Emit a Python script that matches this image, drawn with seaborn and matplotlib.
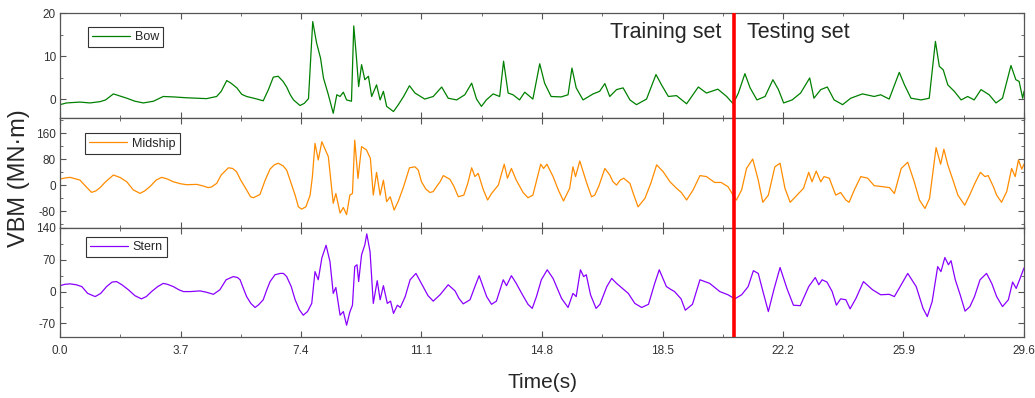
import matplotlib
matplotlib.use("Agg")
import matplotlib.pyplot as plt
from matplotlib import font_manager
from matplotlib.ticker import MultipleLocator, FixedLocator
import pandas as pd
import seaborn as sns

# Vertical bending moment records (time in s, VBM in MN·m)
bow = [
    (0.0, -1.3), (0.2, -0.9), (0.61, -0.7), (0.92, -0.9), (1.23, -0.6), (1.4, -0.2), (1.64, 1.2),
    (2.05, 0.2), (2.3, -0.5), (2.56, -0.9), (2.87, -0.5), (3.17, 0.6), (3.48, 0.5), (3.89, 0.3),
    (4.5, 0.1), (4.81, 0.6), (4.95, 1.8), (5.12, 4.3), (5.25, 3.7), (5.43, 2.6), (5.58, 1.1),
    (5.73, 0.6), (6.0, 0.1), (6.24, -0.4), (6.4, 2.2), (6.55, 5.1), (6.7, 5.3), (6.85, 4.1),
    (6.96, 2.8), (7.07, 1.0), (7.17, -0.2), (7.37, -1.5), (7.5, -1.0), (7.63, 0.1), (7.76, 18.0),
    (7.88, 13.0), (8.0, 9.5), (8.09, 4.9), (8.24, 1.0), (8.39, -3.3), (8.5, 1.0), (8.6, 0.6),
    (8.7, 1.6), (8.8, -0.2), (8.95, -0.5), (9.02, 17.0), (9.1, 9.9), (9.17, 2.9), (9.26, 8.0),
    (9.36, 4.5), (9.47, 5.3), (9.57, 0.6), (9.72, 3.3), (9.83, -0.2), (9.93, 1.8), (10.03, -1.7),
    (10.24, -2.9), (10.39, -1.3), (10.55, 0.6), (10.73, 3.1), (10.9, 1.4), (11.2, 0.0), (11.46, 0.6),
    (11.72, 2.8), (11.92, 0.2), (12.18, -0.2), (12.43, 1.0), (12.64, 3.7), (12.79, 0.0), (12.94, -1.7),
    (13.09, -0.2), (13.3, 1.2), (13.5, 0.6), (13.62, 8.8), (13.76, 1.4), (13.91, 1.0), (14.11, -0.2),
    (14.27, 1.6), (14.52, 0.0), (14.73, 8.2), (14.88, 3.7), (15.08, 0.6), (15.39, 0.5), (15.6, 1.0),
    (15.72, 7.2), (15.85, 2.6), (16.06, -0.2), (16.37, 1.2), (16.57, 1.8), (16.73, 3.6), (16.88, 0.6),
    (17.09, 2.2), (17.29, 2.6), (17.5, -0.2), (17.7, -1.3), (18.01, 0.0), (18.3, 5.7), (18.47, 3.3),
    (18.68, 0.6), (18.93, 0.8), (19.24, -1.1), (19.6, 2.8), (19.85, 1.4), (20.2, 2.3), (20.47, 0.6),
    (20.67, -1.1), (20.83, 1.4), (21.03, 5.9), (21.19, 2.6), (21.4, -0.2), (21.65, 0.6), (21.89, 4.5),
    (22.06, 2.2), (22.22, -0.9), (22.48, -0.2), (22.74, 1.4), (23.02, 4.9), (23.15, 0.2), (23.36, 2.2),
    (23.56, 2.8), (23.77, -0.2), (24.03, -1.3), (24.28, 0.2), (24.64, 1.2), (25.0, 0.6), (25.2, 1.0),
    (25.46, 0.0), (25.77, 6.2), (25.93, 3.3), (26.13, 0.2), (26.44, -0.2), (26.69, 0.2), (26.88, 13.4),
    (27.0, 7.6), (27.12, 6.8), (27.26, 3.3), (27.46, 1.8), (27.67, -0.2), (27.87, 0.6), (28.07, -0.2),
    (28.28, 2.2), (28.53, 1.0), (28.74, -0.9), (28.94, 0.2), (29.2, 7.8), (29.35, 4.5), (29.45, 4.1),
    (29.56, 0.2), (29.6, 1.8),
]

midship = [
    (0.0, 19.5), (0.15, 22.6), (0.31, 24.6), (0.61, 16.4), (0.8, -4), (0.97, -21.5), (1.1, -17),
    (1.23, -7), (1.4, 11), (1.64, 31.8), (1.85, 24), (2.05, 11), (2.25, -14), (2.46, -24.6),
    (2.6, -17), (2.76, -4), (2.95, 16), (3.12, 24.6), (3.3, 19.5), (3.48, 11), (3.7, 5), (3.89, 2),
    (4.2, 3), (4.4, -2), (4.55, -7), (4.65, -5), (4.81, 6), (4.95, 32), (5.17, 54), (5.3, 52),
    (5.42, 42), (5.55, 16), (5.73, -14), (5.85, -35), (5.94, -38), (6.14, -28), (6.3, 16),
    (6.45, 50), (6.58, 63), (6.7, 68), (6.85, 60), (6.96, 47), (7.1, 6), (7.22, -30), (7.32, -66),
    (7.42, -73), (7.55, -66), (7.68, -30), (7.75, 27), (7.83, 129), (7.93, 78), (8.04, 134),
    (8.24, 88), (8.39, -55), (8.47, -25), (8.6, -85), (8.7, -68), (8.8, -90), (8.9, -30),
    (8.98, -25), (9.05, 139), (9.15, 21), (9.26, 119), (9.41, 109), (9.53, 83), (9.62, -30),
    (9.72, 40), (9.83, -30), (9.93, 16), (10.03, -50), (10.14, -35), (10.26, -76), (10.39, -48),
    (10.55, -4), (10.73, 54), (10.9, 57), (11.0, 47), (11.1, 11), (11.23, -11), (11.36, -22),
    (11.46, -19), (11.56, -4), (11.67, 11), (11.77, 30), (11.97, 19), (12.1, -4), (12.23, -35),
    (12.4, -30), (12.52, 6), (12.64, 54), (12.74, 27), (12.84, 37), (13.0, -14), (13.13, -45),
    (13.25, -25), (13.46, 1), (13.64, 65), (13.74, 22), (13.86, 52), (14.01, 16), (14.22, -22),
    (14.37, -38), (14.52, -30), (14.76, 65), (14.85, 52), (14.95, 65), (15.14, 27), (15.3, -14),
    (15.46, -48), (15.65, -9), (15.75, 57), (15.83, 27), (15.96, 75), (16.16, 11), (16.32, -35),
    (16.42, -30), (16.55, -1), (16.73, 52), (16.88, 32), (16.98, 11), (17.09, 1), (17.2, 16),
    (17.31, 22), (17.5, 6), (17.62, -30), (17.75, -66), (17.96, -40), (18.14, 6), (18.32, 63),
    (18.52, 42), (18.73, 11), (18.93, -9), (19.08, -22), (19.24, -45), (19.44, -14), (19.65, 30),
    (19.85, 27), (20.1, 9), (20.3, 9), (20.51, -4), (20.67, -30), (20.77, -45), (20.93, -14),
    (21.08, 52), (21.27, 81), (21.44, 16), (21.58, -52), (21.75, -30), (21.95, 57), (22.11, 68),
    (22.26, -9), (22.42, -52), (22.63, -30), (22.83, -9), (22.99, 40), (23.09, 11), (23.22, 44),
    (23.36, 11), (23.46, 27), (23.62, 22), (23.82, -30), (23.97, -22), (24.13, -45), (24.23, -52),
    (24.39, -14), (24.59, 27), (24.8, 22), (25.0, -1), (25.26, -4), (25.47, -7), (25.62, -25),
    (25.83, 52), (26.03, 71), (26.23, 11), (26.39, -45), (26.56, -71), (26.7, -40), (26.9, 116),
    (27.04, 65), (27.14, 111), (27.26, 63), (27.42, 16), (27.57, -30), (27.78, -61), (27.93, -30),
    (28.09, 6), (28.26, 40), (28.4, 27), (28.5, 30), (28.66, -4), (28.76, -30), (28.91, -52),
    (29.07, -19), (29.22, 52), (29.33, 27), (29.43, 78), (29.53, 50), (29.6, 65),
]

stern = [
    (0.0, 13), (0.15, 16), (0.31, 17), (0.5, 15), (0.67, 11), (0.85, -4), (1.08, -11), (1.25, -4),
    (1.43, 11), (1.6, 21), (1.74, 22), (1.9, 15), (2.1, 4), (2.3, -9), (2.5, -16), (2.65, -11),
    (2.81, 0), (3.0, 11), (3.17, 18), (3.3, 16), (3.48, 11), (3.65, 4), (3.79, 0), (4.0, 0),
    (4.3, 1.5), (4.5, -1.5), (4.71, -6), (4.91, 4), (5.1, 26), (5.32, 33), (5.45, 31), (5.53, 26),
    (5.62, 9), (5.73, -11), (5.86, -26), (5.99, -35), (6.1, -29), (6.24, -18), (6.35, 4),
    (6.45, 22), (6.6, 37), (6.76, 40), (6.86, 40), (6.96, 33), (7.1, 11), (7.22, -18), (7.35, -40),
    (7.47, -52), (7.6, -44), (7.73, -26), (7.83, 44), (7.93, 26), (8.04, 74), (8.17, 102),
    (8.29, 66), (8.39, -4), (8.47, 9), (8.6, -52), (8.7, -44), (8.8, -74), (8.9, -45), (8.98, -30),
    (9.05, 55), (9.12, 59), (9.17, 22), (9.26, 81), (9.36, 103), (9.42, 127), (9.52, 88),
    (9.62, -26), (9.74, 24), (9.83, -18), (9.93, 13), (10.05, -26), (10.15, -21), (10.24, -48),
    (10.36, -30), (10.45, -35), (10.6, -11), (10.75, 26), (10.93, 40), (11.15, 11), (11.3, -9),
    (11.46, -21), (11.67, -7), (11.92, 15), (12.13, 1.5), (12.25, -15), (12.38, -27), (12.59, -18),
    (12.74, 11), (12.87, 35), (12.97, 15), (13.1, -11), (13.25, -28), (13.4, -21), (13.61, 26),
    (13.71, 13), (13.86, 35), (14.01, 18), (14.2, -7), (14.37, -28), (14.5, -37), (14.63, -11),
    (14.78, 26), (14.96, 48), (15.14, 29), (15.27, 7), (15.4, -15), (15.6, -35), (15.75, -4),
    (15.85, -11), (15.98, 48), (16.08, 33), (16.16, 37), (16.29, -7), (16.46, -37), (16.58, -28),
    (16.79, 11), (16.94, 29), (17.09, 18), (17.27, 7), (17.45, -4), (17.65, -26), (17.86, -35),
    (18.07, -28), (18.26, 18), (18.4, 48), (18.62, 11), (18.75, 5), (18.87, 0), (19.07, -16),
    (19.2, -41), (19.42, -28), (19.65, 26), (19.95, 18), (20.26, 0), (20.51, -7), (20.72, -16),
    (20.93, -7), (21.13, 11), (21.29, 46), (21.44, 40), (21.6, -4), (21.75, -44), (21.93, 7),
    (22.11, 53), (22.32, 7), (22.52, -30), (22.73, -31), (22.99, 11), (23.19, 31), (23.3, 15),
    (23.4, 26), (23.55, 21), (23.71, 0), (23.84, -30), (23.97, -16), (24.13, -18), (24.26, -38),
    (24.44, -15), (24.67, 22), (24.95, 4), (25.2, -7), (25.46, -6), (25.62, -11), (25.83, 15),
    (26.03, 40), (26.29, 11), (26.5, -37), (26.63, -55), (26.78, -22), (26.95, 55), (27.05, 44),
    (27.17, 75), (27.28, 59), (27.36, 68), (27.49, 26), (27.64, -7), (27.79, -43), (27.94, -33),
    (28.08, -11), (28.25, 26), (28.45, 40), (28.61, 18), (28.76, -11), (28.94, -33), (29.12, -18),
    (29.25, 21), (29.36, 7), (29.48, 29), (29.6, 52),
]

series_names = ["Bow", "Midship", "Stern"]
series_colors = ["#008000", "#ff8c00", "#8a00ff"]
x_ticks = [0.0, 3.7, 7.4, 11.1, 14.8, 18.5, 22.2, 25.9, 29.6]
y_ticks = [[0, 10, 20], [-80, 0, 80, 160], [-70, 0, 70, 140]]
y_minor = [5, 40, 35]
y_limits = [(-4.4, 20), (-131, 207), (-100, 140)]
split_time = 20.7

sns.set_style("ticks")
available = {f.name for f in font_manager.fontManager.ttflist}
narrow = "Liberation Sans Narrow" if "Liberation Sans Narrow" in available else "Liberation Sans"
plt.rcParams["font.family"] = ["Liberation Sans", "DejaVu Sans"]
plt.rcParams["axes.unicode_minus"] = False

fig = plt.figure(figsize=(10.35, 3.98), dpi=100)
W, H = 1035, 398
left, right = 60, 1024
panel_px = [(13, 118), (118, 228), (228, 337)]
legend_anchor = [(0.029, 0.87), (0.026, 0.86), (0.027, 0.92)]

axes = []
for top, bot in panel_px:
    ax = fig.add_axes([left / W, 1 - bot / H, (right - left) / W, (bot - top) / H])
    axes.append(ax)

for i, (ax, data) in enumerate(zip(axes, [bow, midship, stern])):
    df = pd.DataFrame(data, columns=["Time", "VBM"])
    sns.lineplot(data=df, x="Time", y="VBM", ax=ax, color=series_colors[i], lw=0.9,
                 sort=True, estimator=None, label=series_names[i])
    ax.axvline(split_time, color="#ff0000", lw=2.6, zorder=5)
    ax.set_xlim(0, 29.6)
    ax.set_ylim(*y_limits[i])
    ax.xaxis.set_major_locator(FixedLocator(x_ticks))
    ax.xaxis.set_minor_locator(MultipleLocator(1.85))
    ax.yaxis.set_major_locator(FixedLocator(y_ticks[i]))
    ax.yaxis.set_minor_locator(MultipleLocator(y_minor[i]))
    ax.tick_params(which="both", direction="in", top=True, right=True, color="#555555")
    ax.tick_params(which="major", length=4, width=0.8)
    ax.tick_params(which="minor", length=2.5, width=0.6)
    ax.tick_params(axis="y", labelsize=8.5, labelcolor="#333333", pad=3)
    for lbl in ax.get_yticklabels():
        lbl.set_family([narrow, "DejaVu Sans"])
    for s in ax.spines.values():
        s.set_color("#555555")
        s.set_linewidth(0.9)
    ax.set_xlabel("")
    ax.set_ylabel("")
    if i < 2:
        ax.tick_params(axis="x", labelbottom=False)
    else:
        ax.set_xticklabels([f"{t:.1f}" for t in x_ticks], family=[narrow, "DejaVu Sans"],
                           fontsize=8.5, color="#333333")
        ax.tick_params(axis="x", pad=6)
    leg = ax.legend(loc="upper left", bbox_to_anchor=legend_anchor[i], fontsize=9,
                    frameon=True, fancybox=False, framealpha=1, edgecolor="#333333",
                    handlelength=3.0, handletextpad=0.4, borderpad=0.35, borderaxespad=0)
    leg.get_frame().set_linewidth(0.8)

axes[0].text(split_time - 0.38, 15.4, "Training set", ha="right", va="center", fontsize=15.5)
axes[0].text(split_time + 0.38, 15.4, "Testing set", ha="left", va="center", fontsize=15.5)

fig.text(19 / W, 1 - 178 / H, "VBM (MN·m)", rotation=90, ha="center", va="center", fontsize=17)
fig.text((left + right) / 2 / W, 1 - 382 / H, "Time(s)", ha="center", va="center",
         fontsize=15, family=[narrow, "DejaVu Sans"])

fig.savefig("out.png", dpi=100)
